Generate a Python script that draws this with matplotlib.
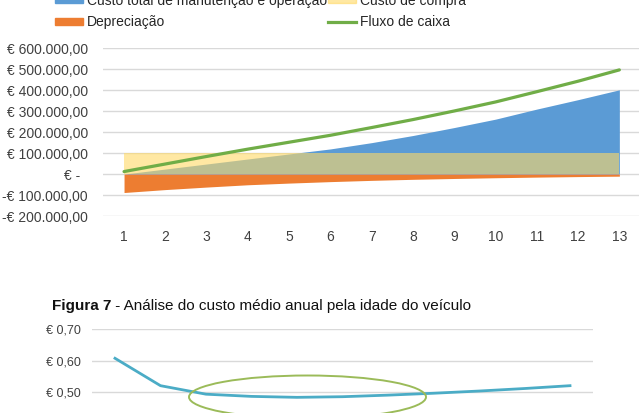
import matplotlib
matplotlib.use("Agg")
import matplotlib.pyplot as plt
from matplotlib.lines import Line2D
from matplotlib.patches import Patch, Ellipse

plt.rcParams["font.family"] = ["Liberation Sans", "DejaVu Sans"]

# ---- gráfico de cima: custos por ano (em milhares de euros) ----
anos = list(range(1, 14))
custo_manut = [0, 24, 48, 72, 96, 120, 150, 184, 222, 262, 310, 355, 402]
custo_compra = [100] * 13
depreciacao = [-88, -74, -62, -51, -43, -36, -30, -25, -21, -17.5, -14.5, -12, -10]
fluxo_caixa = [12, 48, 84, 119, 152, 185, 222, 260, 301, 344, 393, 443, 497]
yticks = [-200, -100, 0, 100, 200, 300, 400, 500, 600]
ytick_labels = ["-€ 200.000,00", "-€ 100.000,00", "€ -  ", "€ 100.000,00", "€ 200.000,00",
                "€ 300.000,00", "€ 400.000,00", "€ 500.000,00", "€ 600.000,00"]
series = ["Custo total de manutenção e operação", "Depreciação", "Custo de compra", "Fluxo de caixa"]

# ---- gráfico de baixo (cortado): custo médio anual ----
idade = list(range(1, 12))
custo_medio = [0.608, 0.521, 0.494, 0.487, 0.484, 0.486, 0.491, 0.497, 0.504, 0.512, 0.521]
yticks2 = [0.5, 0.6, 0.7]
ytick2_labels = ["€ 0,50", "€ 0,60", "€ 0,70"]
legenda_fig = "Figura 7"
titulo_fig = " - Análise do custo médio anual pela idade do veículo"

AZUL, LARANJA, AMARELO, VERDE = "#5B9BD5", "#ED7D31", "#FFD966", "#70AD47"
GRID = "#d9d9d9"
TXT = "#404040"
W, H = 639, 413

fig = plt.figure(figsize=(W / 100, H / 100), dpi=100)

# eixo de cima (posições em píxeis convertidas para fração)
ax = fig.add_axes([103.4 / W, (H - 216) / H, 536.6 / W, 167.7 / H])
ax.fill_between(anos, 0, custo_manut, color=AZUL, lw=0)
ax.fill_between(anos, 0, custo_compra, color=AMARELO, alpha=0.6, lw=0)
ax.fill_between(anos, 0, depreciacao, color=LARANJA, lw=0)
ax.plot(anos, fluxo_caixa, color=VERDE, lw=2.3, solid_capstyle="round")
ax.set_xlim(0.5, 13.5)
ax.set_ylim(-200, 600)
ax.set_yticks(yticks, ytick_labels)
ax.set_xticks(anos)
ax.grid(axis="y", color=GRID, lw=1.0)
ax.set_axisbelow(True)
for s in ax.spines.values():
    s.set_visible(False)
ax.tick_params(length=0, labelsize=10, colors=TXT)
ax.tick_params(axis="y", pad=11)
ax.tick_params(axis="x", pad=10)

handles = [Patch(color=AZUL), Patch(color=LARANJA), Patch(color=AMARELO, alpha=0.6),
           Line2D([0], [0], color=VERDE, lw=2.3)]
fig.legend(handles, series, ncol=2, loc="upper left", frameon=False,
           bbox_to_anchor=(55 / W, 1 + 6.5 / H), bbox_transform=fig.transFigure,
           fontsize=10, borderpad=0, borderaxespad=0, handlelength=2.0, handleheight=0.4,
           handletextpad=0.3, columnspacing=0.1, labelspacing=0.55, labelcolor="#262626")

# legenda da figura
fig.canvas.draw()
t1 = fig.text(52 / W, (H - 306) / H, legenda_fig, fontsize=11, fontweight="bold", va="center", color="#111111")
bb = t1.get_window_extent(fig.canvas.get_renderer())
fig.text(bb.x1 / W, (H - 306) / H, titulo_fig, fontsize=11, va="center", color="#111111")

# eixo de baixo, cortado pela margem inferior
ax2 = fig.add_axes([92.25 / W, (H - 423.8) / H, 500.5 / W, 94.5 / H])
ax2.plot(idade, custo_medio, color="#4BACC6", lw=2.0)
ax2.set_xlim(0.5, 11.5)
ax2.set_ylim(0.4, 0.7)
ax2.set_yticks(yticks2, ytick2_labels)
ax2.set_xticks([])
ax2.grid(axis="y", color=GRID, lw=1.0)
ax2.set_axisbelow(True)
for s in ax2.spines.values():
    s.set_visible(False)
ax2.tick_params(length=0, labelsize=9, colors="#404040", pad=8)

fig.add_artist(Ellipse((307.5 / W, (H - 397) / H), 237 / W, 43 / H, transform=fig.transFigure,
                       fill=False, edgecolor="#9BBB59", lw=1.4))

fig.savefig("out.png", dpi=100)
